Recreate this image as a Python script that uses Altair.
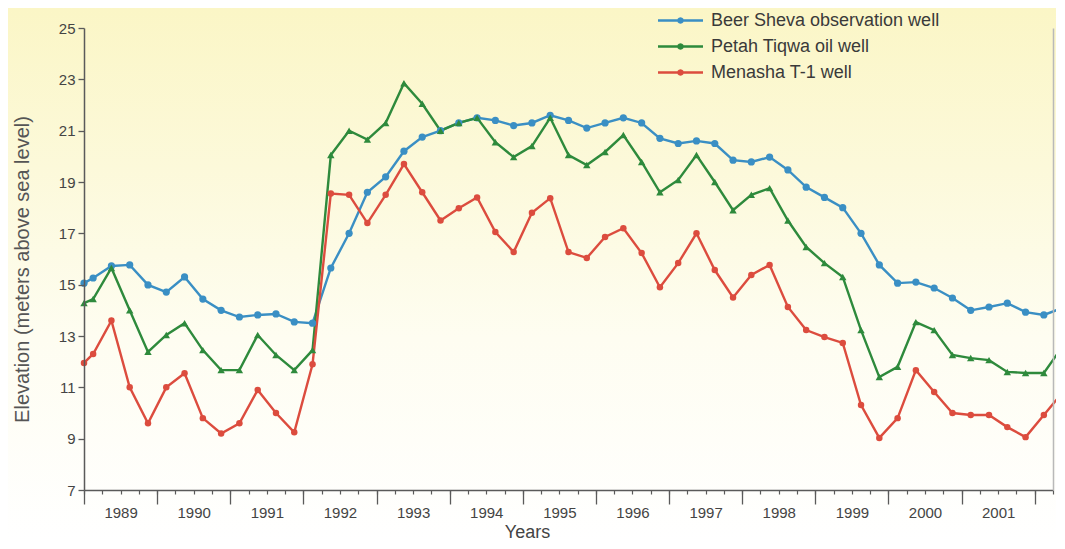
import altair as alt
import pandas as pd

names = ["Beer Sheva observation well", "Petah Tiqwa oil well", "Menasha T-1 well"]
colors = ["#3a8fc4", "#2e8a3c", "#dc4c3e"]
marker_shapes = ["circle", "triangle-up", "circle"]
marker_sizes = [52, 55, 42]

dates = [1989.0, 1989.125, 1989.375, 1989.625, 1989.875,
         1990.125, 1990.375, 1990.625, 1990.875,
         1991.125, 1991.375, 1991.625, 1991.875,
         1992.125, 1992.375, 1992.625, 1992.875,
         1993.125, 1993.375, 1993.625, 1993.875,
         1994.125, 1994.375, 1994.625, 1994.875,
         1995.125, 1995.375, 1995.625, 1995.875,
         1996.125, 1996.375, 1996.625, 1996.875,
         1997.125, 1997.375, 1997.625, 1997.875,
         1998.125, 1998.375, 1998.625, 1998.875,
         1999.125, 1999.375, 1999.625, 1999.875,
         2000.125, 2000.375, 2000.625, 2000.875,
         2001.125, 2001.375, 2001.625, 2001.875,
         2002.125, 2002.375]

beer_sheva = [15.06, 15.26, 15.73, 15.77, 14.99, 14.71, 15.3, 14.44, 14.0, 13.74,
              13.82, 13.86, 13.55, 13.5, 15.65, 17.0, 18.6, 19.2, 20.2, 20.75,
              21.0, 21.3, 21.5, 21.4, 21.2, 21.3, 21.6, 21.4, 21.1, 21.3,
              21.5, 21.3, 20.7, 20.5, 20.6, 20.5, 19.85, 19.78, 19.97, 19.47,
              18.8, 18.4, 18.0, 17.0, 15.77, 15.06, 15.1, 14.87, 14.48, 14.0,
              14.13, 14.28, 13.93, 13.82, 14.09]

petah_tiqwa = [14.28, 14.44, 15.65, 14.0, 12.38, 13.04, 13.5, 12.45, 11.67, 11.67,
               13.04, 12.26, 11.67, 12.45, 20.05, 21.0, 20.65, 21.3, 22.85, 22.05,
               21.0, 21.3, 21.5, 20.55, 19.97, 20.4, 21.5, 20.05, 19.66, 20.17,
               20.83, 19.78, 18.6, 19.08, 20.05, 19.0, 17.9, 18.5, 18.76, 17.5,
               16.47, 15.84, 15.3, 13.23, 11.4, 11.8, 13.54, 13.23, 12.26, 12.14,
               12.06, 11.6, 11.56, 11.56, 12.57]

menasha = [11.95, 12.3, 13.6, 11.0, 9.6, 11.0, 11.55, 9.8, 9.2, 9.6,
           10.9, 10.0, 9.25, 11.9, 18.55, 18.5, 17.4, 18.5, 19.7, 18.6,
           17.5, 17.98, 18.4, 17.05, 16.27, 17.8, 18.37, 16.27, 16.04, 16.86,
           17.2, 16.23, 14.9, 15.84, 17.0, 15.57, 14.5, 15.38, 15.77, 14.13,
           13.23, 12.96, 12.73, 10.31, 9.03, 9.8, 11.67, 10.82, 10.0, 9.92,
           9.92, 9.45, 9.06, 9.92, 10.78]

y_ticks = [7, 9, 11, 13, 15, 17, 19, 21, 23, 25]
year_ticks = [1989, 1990, 1991, 1992, 1993, 1994, 1995, 1996, 1997, 1998, 1999, 2000, 2001, 2002]
label_pos = [1989.5, 1990.5, 1991.5, 1992.5, 1993.5, 1994.5, 1995.5, 1996.5,
             1997.5, 1998.5, 1999.5, 2000.5, 2001.5]
quarter_ticks = [1989 + 0.25 * i for i in range(54)]

rows = []
for name, vals in zip(names, [beer_sheva, petah_tiqwa, menasha]):
    for t, v in zip(dates, vals):
        rows.append({"series": name, "t": t, "v": v})
df = pd.DataFrame(rows)

W, H = 969, 462
PAD = {"left": 76, "top": 20, "right": 3, "bottom": 51}
FONT = "Liberation Sans"
TXT = "#444444"
AX = "#5a5a5a"

xscale = alt.Scale(domain=[1989, 2002.25], nice=False, zero=False)
yscale = alt.Scale(domain=[7, 25], nice=False, zero=False)

x_axis_major = alt.Axis(
    orient="bottom", values=year_ticks, grid=False, zindex=1, labels=False,
    tickSize=14, tickColor=AX, tickWidth=1.3, domainColor=AX, domainWidth=1.5,
    title="Years", titleFontSize=18, titleFontWeight="normal", titleColor=TXT,
    titleX=443, titleY=42, titleBaseline="middle", titleAnchor="middle", titleAlign="center",
)
x_axis_minor = alt.Axis(
    orient="bottom", values=quarter_ticks, grid=False, zindex=1, labels=False, domain=False,
    tickSize=4, tickColor=AX, tickWidth=1.2, title=None,
)
x_axis_labels = alt.Axis(
    orient="bottom", values=label_pos, grid=False, zindex=1, ticks=False, domain=False,
    labelExpr="'' + floor(datum.value)", labelFontSize=15, labelColor=TXT,
    labelPadding=15, labelOverlap=False, labelFlush=False, title=None,
)
y_axis = alt.Axis(
    orient="left", values=y_ticks, grid=False, zindex=1,
    tickSize=6, tickColor=AX, tickWidth=1.3, domainColor=AX, domainWidth=1.5,
    labelFontSize=15, labelColor=TXT, labelPadding=3,
    title="Elevation (meters above sea level)", titleFontSize=20, titleFontWeight="normal",
    titleColor="#555555", titleX=-62, titleY=241, titleAngle=270, titleBaseline="middle",
    titleAlign="center",
)
right_axis = alt.Axis(orient="right", labels=False, ticks=False, grid=False, title=None,
                      domainColor="#b9b9b9", domainWidth=1.5, zindex=1)

bg = alt.Chart(alt.Data(values=[{"k": 0}])).mark_rect(
    fill=alt.Gradient(
        gradient="linear", x1=0, x2=0, y1=0, y2=1,
        stops=[alt.GradientStop(offset=0, color="#fbf6c6"),
               alt.GradientStop(offset=0.3, color="#fcf9da"),
               alt.GradientStop(offset=0.62, color="#fefdf1"),
               alt.GradientStop(offset=1, color="#ffffff")]),
    strokeWidth=0,
).encode(
    x=alt.value(-PAD["left"]), x2=alt.value(W + PAD["right"]),
    y=alt.value(-PAD["top"]), y2=alt.value(H + PAD["bottom"]),
)

# legend symbol: a 45px line with a small marker in its middle (1 path unit = 10px here)
leg_symbol = ("M-2.25,0L2.25,0"
              "M0.2,0L0.173,0.1L0.1,0.173L0,0.2L-0.1,0.173L-0.173,0.1L-0.2,0"
              "L-0.173,-0.1L-0.1,-0.173L0,-0.2L0.1,-0.173L0.173,-0.1Z")

lines = alt.Chart(df).mark_line(strokeWidth=2.4).encode(
    x=alt.X("t:Q", scale=xscale, axis=x_axis_major),
    y=alt.Y("v:Q", scale=yscale, axis=y_axis),
    color=alt.Color(
        "series:N", scale=alt.Scale(domain=names, range=colors),
        legend=alt.Legend(
            orient="none", legendX=585, legendY=-19, title=None, zindex=3,
            symbolType=leg_symbol, symbolSize=400, symbolStrokeWidth=2.5,
            rowPadding=5, labelFontSize=18, labelColor="#3a3a3a", labelOffset=19,
            labelLimit=400,
        ),
    ),
    order="t:Q",
)

x_axes_for_points = [x_axis_minor, x_axis_labels, None]
pts = []
for name, c, shp, sz, xa in zip(names, colors, marker_shapes, marker_sizes, x_axes_for_points):
    pts.append(
        alt.Chart(df).transform_filter(alt.datum.series == name)
        .mark_point(filled=True, shape=shp, size=sz, color=c, opacity=1)
        .encode(x=alt.X("t:Q", scale=xscale, axis=xa),
                y=alt.Y("v:Q", scale=yscale, axis=None))
    )

# invisible layer that carries the light right-hand frame line (a right y axis)
frame = alt.Chart(df).mark_point(opacity=0, size=1).encode(
    x=alt.X("t:Q", scale=xscale, axis=None),
    y=alt.Y("v:Q", scale=yscale, axis=right_axis),
)

chart = (
    alt.layer(bg, lines, *pts, frame)
    .resolve_axis(x="independent", y="independent")
    .properties(width=W, height=H, padding=PAD, autosize=alt.AutoSizeParams(type="none"),
                background="#ffffff")
    .configure(font=FONT)
    .configure_view(stroke=None)
)

chart.save("out.html", embed_options={"renderer": "svg", "actions": False})
